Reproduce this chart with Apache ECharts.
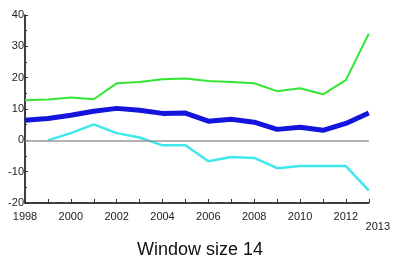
<!DOCTYPE html>
<html>
<head>
<meta charset="utf-8">
<script src="https://cdn.jsdelivr.net/npm/echarts@6/dist/echarts.min.js"></script>
<style>
  html, body { margin: 0; padding: 0; background: #fff; }
  #chart { width: 393px; height: 273px; }
</style>
</head>
<body>
<div id="chart"></div>
<script>
// years on the x axis
var years = [1998, 1999, 2000, 2001, 2002, 2003, 2004, 2005, 2006, 2007, 2008, 2009, 2010, 2011, 2012, 2013]
var greenVals = [12.8, 13, 13.7, 13.1, 18.2, 18.6, 19.5, 19.7, 18.9, 18.6, 18.2, 15.7, 16.6, 14.7, 19.2, 34]
var blueVals = [6.4, 7, 8, 9.3, 10.2, 9.6, 8.6, 8.7, 6.1, 6.7, 5.8, 3.5, 4.2, 3.2, 5.4, 8.7]
var cyanVals = [null, 0, 2.3, 5.1, 2.3, 0.9, -1.6, -1.6, -6.7, -5.3, -5.6, -8.9, -8.2, -8.2, -8.2, -16]
var xLabels = [1998, 2000, 2002, 2004, 2006, 2008, 2010, 2012, 2013]

function pairs (vals) {
  var out = []
  for (var i = 0; i < years.length; i++) {
    if (vals[i] !== null) out.push([years[i], vals[i]])
  }
  return out
}

var font = '"Liberation Sans Narrow", "Liberation Sans", Arial, sans-serif'

var option = {
  backgroundColor: '#fff',
  animation: false,
  title: {
    text: 'Window size 14',
    left: 195,
    textAlign: 'center',
    top: 236,
    textStyle: { fontFamily: font, fontSize: 18, fontWeight: 'normal', color: '#111' }
  },
  grid: { left: 25, right: 23, top: 15, bottom: 70 },
  xAxis: {
    type: 'value',
    min: 1998,
    max: 2013,
    interval: 1,
    axisLine: { onZero: false, lineStyle: { color: '#000', width: 1.5 } },
    axisTick: { inside: true, length: 4, lineStyle: { color: '#333' } },
    splitLine: { show: false },
    axisLabel: {
      margin: 8,
      fontFamily: font,
      fontSize: 11,
      color: '#222',
      formatter: function (v) {
        if (v === 2013) return '{b|' + v + '}'
        return xLabels.indexOf(v) >= 0 ? String(v) : ''
      },
      rich: { b: { fontFamily: font, fontSize: 11, color: '#222', padding: [10, 0, 0, 18] } }
    }
  },
  yAxis: {
    type: 'value',
    min: -20,
    max: 40,
    interval: 10,
    axisLine: { show: true, lineStyle: { color: '#000', width: 1.5 } },
    axisTick: { inside: true, length: 3, lineStyle: { color: '#333' } },
    minorTick: { show: true, splitNumber: 2, length: 2, lineStyle: { color: '#333' } },
    splitLine: { show: false },
    axisLabel: { margin: 1, fontFamily: font, fontSize: 11, color: '#222' }
  },
  series: [
    {
      type: 'line',
      data: pairs(greenVals),
      symbol: 'none',
      lineStyle: { color: '#33e633', width: 2 },
      z: 3
    },
    {
      type: 'line',
      data: pairs(blueVals),
      symbol: 'none',
      lineStyle: { color: '#1414dc', width: 5 },
      z: 4
    },
    {
      type: 'line',
      data: pairs(cyanVals),
      symbol: 'none',
      lineStyle: { color: '#3ee8ee', width: 2.5 },
      z: 3,
      markLine: {
        silent: true,
        symbol: 'none',
        label: { show: false },
        lineStyle: { color: '#999', width: 1.5, type: 'solid' },
        data: [{ yAxis: 0 }]
      }
    }
  ]
}

var myChart = echarts.init(document.getElementById('chart'))
myChart.setOption(option)
</script>
</body>
</html>
